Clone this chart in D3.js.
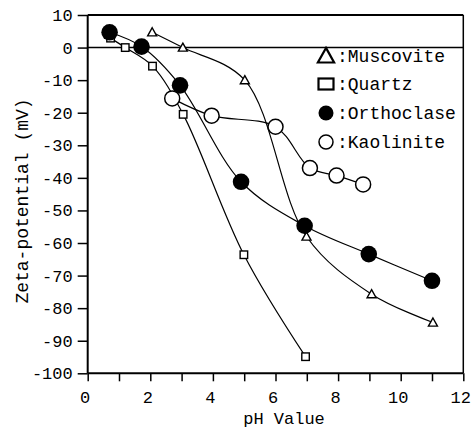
<!DOCTYPE html>
<html>
<head>
<meta charset="utf-8">
<script src="https://cdn.jsdelivr.net/npm/d3@7"></script>
<style>
  body { margin: 0; background: #fff; }
  text { font-family: "Liberation Mono", "DejaVu Sans Mono", monospace; fill: #000; }
</style>
</head>
<body>
<div id="chart"></div>
<script>
// values (pH, zeta potential in mV)
const muscovitePH = [2.06, 3.04, 5.02, 6.99, 9.07, 11.03];
const muscoviteMV = [4.7, 0, -10, -58, -75.7, -84.4];
const quartzPH = [0.73, 1.2, 2.07, 3.05, 4.99, 6.96];
const quartzMV = [2.9, 0, -5.7, -20.5, -63.6, -94.9];
const orthoclasePH = [0.7, 1.72, 2.95, 4.9, 6.93, 8.98, 11.0];
const orthoclaseMV = [4.7, 0.3, -11.6, -41.2, -54.7, -63.4, -71.6];
const kaolinitePH = [2.7, 3.96, 6.0, 7.1, 7.95, 8.8];
const kaoliniteMV = [-15.6, -20.9, -24.3, -37, -39.3, -42];

const xTicks = [0,1,2,3,4,5,6,7,8,9,10,11,12];
const yTicks = [10,0,-10,-20,-30,-40,-50,-60,-70,-80,-90,-100];
const legendNames = [':Muscovite', ':Quartz', ':Orthoclase', ':Kaolinite'];

const W = 475, H = 432;
const svg = d3.select('#chart').append('svg').attr('width', W).attr('height', H);

const x = d3.scaleLinear().domain([0, 12]).range([87.7, 463.3]);
const y = d3.scaleLinear().domain([10, -100]).range([15, 373.3]);

// frame: top and right borders, zero line
svg.append('line').attr('x1', x(0)).attr('x2', x(12)).attr('y1', y(10)).attr('y2', y(10))
  .attr('stroke', '#000').attr('stroke-width', 2);
svg.append('line').attr('x1', x(12)).attr('x2', x(12)).attr('y1', y(10)).attr('y2', y(-100))
  .attr('stroke', '#000').attr('stroke-width', 1.5);
svg.append('line').attr('x1', x(0)).attr('x2', x(12)).attr('y1', y(0)).attr('y2', y(0))
  .attr('stroke', '#000').attr('stroke-width', 1.5);

// axes
let gy = svg.append('g').attr('transform', 'translate(' + x(0) + ',0)')
  .call(d3.axisLeft(y).tickValues(yTicks).tickSize(10).tickPadding(5).tickFormat(d => String(d)));
gy.select('.domain').attr('stroke-width', 2).attr('d', 'M0,' + y(10) + 'V' + y(-100));
gy.selectAll('.tick line').attr('stroke-width', 1.5);
gy.selectAll('text').style('font-size', '17px').style('font-family', '"Liberation Mono", monospace');

let gx = svg.append('g').attr('transform', 'translate(0,' + y(-100) + ')')
  .call(d3.axisBottom(x).tickValues(xTicks).tickSize(8).tickPadding(10).tickFormat(d => d % 2 ? '' : String(d)));
gx.select('.domain').attr('stroke-width', 2).attr('d', 'M' + x(0) + ',0H' + x(12));
gx.selectAll('.tick line').attr('stroke-width', 1.5);
gx.selectAll('text').attr('dx', -3).style('font-size', '17px').style('font-family', '"Liberation Mono", monospace');

// axis titles
svg.append('text').attr('x', 284).attr('y', 424).attr('text-anchor', 'middle')
  .style('font-size', '17px').text('pH Value');
svg.append('text').attr('transform', 'translate(28,201) rotate(-90)').attr('text-anchor', 'middle')
  .style('font-size', '18px').text('Zeta-potential (mV)');

// series
const line = d3.line().x(d => x(d[0])).y(d => y(d[1])).curve(d3.curveCatmullRom);
const zip = (a, b) => a.map((v, i) => [v, b[i]]);
const series = [
  { pts: zip(muscovitePH, muscoviteMV), shape: 'tri' },
  { pts: zip(quartzPH, quartzMV), shape: 'sq' },
  { pts: zip(orthoclasePH, orthoclaseMV), shape: 'dot' },
  { pts: zip(kaolinitePH, kaoliniteMV), shape: 'ring' }
];

series.forEach(s => {
  svg.append('path').attr('d', line(s.pts)).attr('fill', 'none')
    .attr('stroke', '#000').attr('stroke-width', 1.2);
});

function marker(g, shape, cx, cy, big) {
  let k = big ? 1.8 : 1;
  if (shape == 'tri') {
    let a = 4.5 * k;
    g.append('path').attr('d', 'M' + cx + ',' + (cy - a) + 'L' + (cx + a) + ',' + (cy + a * 0.8) +
      'L' + (cx - a) + ',' + (cy + a * 0.8) + 'Z')
      .attr('fill', '#fff').attr('stroke', '#000').attr('stroke-width', big ? 2.2 : 1.4);
  } else if (shape == 'sq') {
    let w = big ? 15 : 7.5, h = big ? 11 : 7.5;
    g.append('rect').attr('x', cx - w / 2).attr('y', cy - h / 2).attr('width', w).attr('height', h)
      .attr('fill', '#fff').attr('stroke', '#000').attr('stroke-width', big ? 2.2 : 1.4);
  } else if (shape == 'dot') {
    g.append('circle').attr('cx', cx).attr('cy', cy).attr('r', big ? 7.5 : 8.3).attr('fill', '#000');
  } else {
    g.append('circle').attr('cx', cx).attr('cy', cy).attr('r', big ? 7 : 7.5)
      .attr('fill', '#fff').attr('stroke', '#000').attr('stroke-width', 1.5);
  }
}

let gm = svg.append('g');
series.forEach(s => s.pts.forEach(p => marker(gm, s.shape, x(p[0]), y(p[1]), false)));

// legend
const legY = [62, 90, 119, 148];
let gl = svg.append('g');
series.forEach((s, i) => {
  marker(gl, s.shape, 326, legY[i] - 6, true);
  gl.append('text').attr('x', 337).attr('y', legY[i]).style('font-size', '18px').text(legendNames[i]);
});
</script>
</body>
</html>
